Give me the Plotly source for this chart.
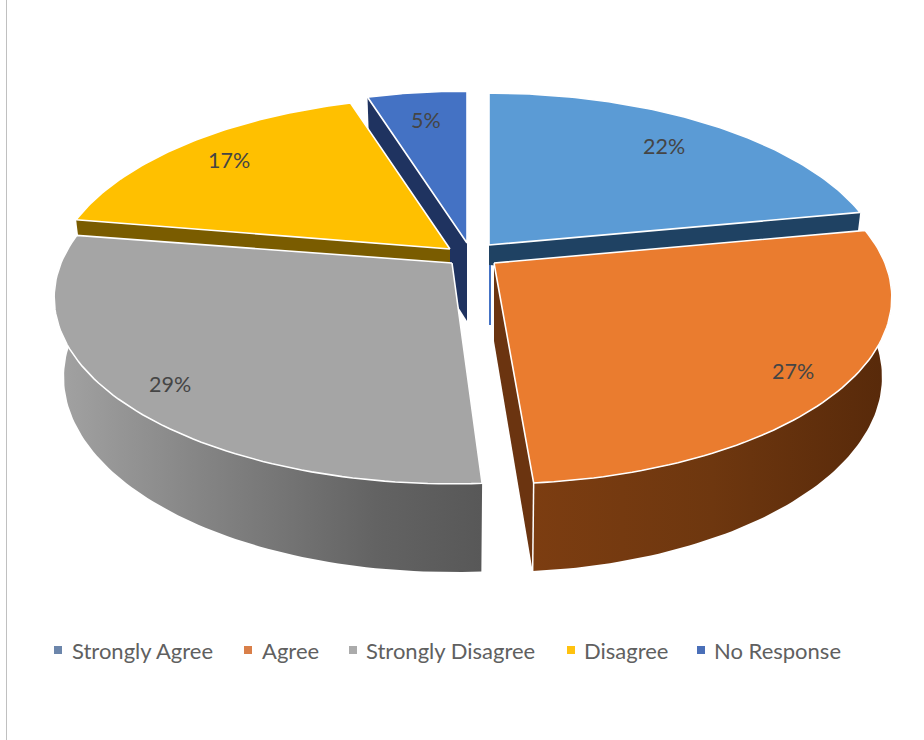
import numpy as np
import plotly.graph_objects as go

# ---- data ----
categories = ["Strongly Agree", "Agree", "Strongly Disagree", "Disagree", "No Response"]
values = [22, 27, 29, 17, 5]
labels = ["22%", "27%", "29%", "17%", "5%"]

# ---- styles ----
top_colors = ["#5b9bd5", "#ea7c2f", "#a5a5a5", "#ffc000", "#4472c4"]
wall_colors = ["#1f4263", "#6b3410", "#6f6f6f", "#7a5c00", "#1f3360"]
legend_colors = ["#6c86ab", "#d97f49", "#ababab", "#ffc20f", "#4a6fb8"]
apex_x = [489, 494, 452, 450, 467]
apex_y = [245, 263, 263, 249, 243]
# small perspective corrections of each slice's start / end angle (radians)
start_adj = [0, 0, 0, -0.02, 0.01]
end_adj = [0, -0.02, -0.03, 0.01, 0]
label_x = [664, 793, 170, 229, 426]
label_y = [146, 371, 384, 160, 120]
legend_mark_x = [58, 248, 353, 571, 701]
legend_text_x = [70, 260, 364, 582, 712]
LEGEND_Y = 650

# perspective projection of the pie disc
A, B, K = 391.0, 180.0, 0.185
DEPTH, SHRINK = 78.0, 0.975

fractions = np.array(values) / sum(values)
edges = np.concatenate([[0], np.cumsum(fractions)]) * 2 * np.pi
t_start = edges[:-1] + np.array(start_adj)
t_end = edges[1:] + np.array(end_adj)


def rim(i, t, lower=False):
    den = 1 + K * np.cos(t)
    a = A * (SHRINK if lower else 1.0)
    x = apex_x[i] + a * np.sin(t) / den
    y = apex_y[i] - B * np.cos(t) / den
    if lower:
        y = y + DEPTH / den ** 0.6
    return x, y


def poly(xs, ys, color, name, line=None, **kw):
    return go.Scatter(
        x=list(xs), y=list(ys), mode="lines", fill="toself", fillcolor=color,
        line=dict(color=line or color, width=1.6 if line else 0),
        hoverinfo="skip", showlegend=False, name=name, **kw)


def cut_wall(i, t, depth=DEPTH):
    x0, y0 = rim(i, t)
    x1, y1 = rim(i, t, True)
    ax, ay = apex_x[i], apex_y[i]
    return poly([ax, x0, x1, ax, ax], [ay, y0, y1, ay + depth, ay], wall_colors[i], categories[i] + " wall")


def top(i):
    t = np.linspace(t_start[i], t_end[i], 80)
    x, y = rim(i, t)
    ax, ay = apex_x[i], apex_y[i]
    return poly(np.r_[ax, x, ax], np.r_[ay, y, ay], top_colors[i], categories[i], line="#ffffff")


def outer_wall(i, t0, t1, scale):
    t = np.linspace(t0, t1, 80)
    x0, y0 = rim(i, t)
    x1, y1 = rim(i, t, True)
    return go.Scatter(
        x=np.r_[x0, x1[::-1], x0[0]], y=np.r_[y0, y1[::-1], y0[0]], mode="lines",
        fill="toself", line=dict(width=0, color="rgba(0,0,0,0)"),
        fillgradient=dict(type="horizontal", colorscale=scale),
        hoverinfo="skip", showlegend=False, name=categories[i] + " side")


fig = go.Figure()

# No Response (back)
fig.add_trace(cut_wall(4, t_start[4]))
fig.add_trace(top(4))
# Strongly Agree: thin inner wall, cut wall and top
ax, ay = apex_x[0] + 1, apex_y[0]
fig.add_trace(go.Scatter(x=[ax, ax], y=[ay, ay + DEPTH + 2], mode="lines",
                         line=dict(color=top_colors[4], width=2),
                         hoverinfo="skip", showlegend=False))
fig.add_trace(cut_wall(0, t_end[0], depth=20))
fig.add_trace(top(0))
# Disagree
fig.add_trace(cut_wall(3, t_start[3]))
fig.add_trace(top(3))
# Strongly Disagree
fig.add_trace(outer_wall(2, t_start[2], 1.5 * np.pi,
                         [[0, "#a3a3a3"], [0.35, "#848484"], [0.75, "#636363"], [1, "#585858"]]))
fig.add_trace(top(2))
# Agree
fig.add_trace(cut_wall(1, t_end[1]))
fig.add_trace(outer_wall(1, np.pi / 2, t_end[1],
                         [[0, "#7c3d11"], [0.5, "#6e370f"], [1, "#57290a"]]))
x0, y0 = rim(1, t_end[1])
x1, y1 = rim(1, t_end[1], True)
fig.add_trace(go.Scatter(x=[x0, x1], y=[y0, y1], mode="lines",
                         line=dict(color="#ffffff", width=1.5),
                         hoverinfo="skip", showlegend=False))
fig.add_trace(top(1))

# legend markers
for i, c in enumerate(categories):
    fig.add_trace(go.Scatter(
        x=[legend_mark_x[i]], y=[LEGEND_Y], mode="markers", name=c,
        marker=dict(symbol="square", size=8, color=legend_colors[i]),
        hoverinfo="skip", showlegend=False))

annotations = [
    dict(x=label_x[i], y=label_y[i], text=labels[i], showarrow=False,
         font=dict(family="Lato", size=21.5, color="#454545"), xanchor="center", yanchor="middle")
    for i in range(len(labels))
] + [
    dict(x=legend_text_x[i], y=LEGEND_Y, text=categories[i], showarrow=False,
         font=dict(family="Lato", size=22, color="#606060"), xanchor="left", yanchor="middle")
    for i in range(len(categories))
]

fig.update_layout(
    width=924, height=740, margin=dict(l=0, r=0, t=0, b=0),
    paper_bgcolor="white", plot_bgcolor="white", showlegend=False,
    xaxis=dict(range=[0, 924], visible=False, fixedrange=True),
    yaxis=dict(range=[740, 0], visible=False, fixedrange=True),
    annotations=annotations,
    shapes=[dict(type="line", xref="x", yref="y", x0=6.5, x1=6.5, y0=0, y1=740,
                 line=dict(color="#c0c0c0", width=1))],
)

fig.write_html("out.html", config={"displayModeBar": False},
               post_script="document.body.style.margin='0';document.body.style.overflow='hidden';")
